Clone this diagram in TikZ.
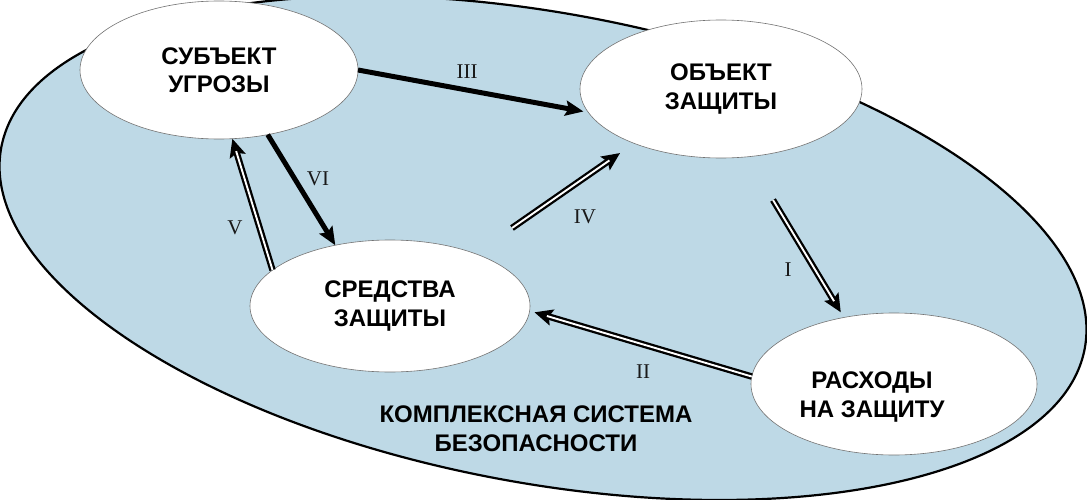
\documentclass[tikz,border=0pt]{standalone}
\usepackage{fontspec}
\setmainfont{Liberation Sans}
\newfontfamily\romfont{Liberation Serif}
\usetikzlibrary{arrows.meta,shapes.geometric}
\definecolor{sysblue}{RGB}{190,217,230}
\newcommand\dblarr[4]{%
  \draw[dblout, shorten >=#3] #1 -- #2;
  \draw[dblin, shorten >=#4] #1 -- #2;}
\begin{document}
\begin{tikzpicture}[x=1pt,y=1pt,
  bubble/.style={ellipse, draw=black!55, line width=0.6pt, fill=white,
    inner sep=0pt, outer sep=0pt, align=center,
    font=\bfseries\fontsize{24}{28.5}\selectfont},
  lbl/.style={align=center, font=\bfseries\fontsize{24}{29}\selectfont},
  rom/.style={font=\romfont\fontsize{21}{21}\selectfont, text=black!90},
  heavy/.style={line width=5pt, -{Stealth[length=18pt,width=15pt,inset=3pt]}},
  dblout/.style={line width=6.5pt, -{Stealth[length=18pt,width=16pt,inset=3pt]}},
  dblin/.style={line width=1.9pt, draw=white}]
\useasboundingbox (0,0) rectangle (1087,499);
% system ellipse
\path[draw=black, line width=2.2pt, fill=sysblue, rotate around={-10.5:(543,251)}]
  (543,251) ellipse [x radius=551, y radius=235];
% nodes
\node[bubble, minimum width=278, minimum height=138] (subj) at (219,429) {СУБЪЕКТ\\УГРОЗЫ};
\node[bubble, minimum width=282, minimum height=138] (obj) at (721,410) {ОБЪЕКТ\\ЗАЩИТЫ};
\node[bubble, minimum width=280, minimum height=132] (means) at (390,193) {СРЕДСТВА\\ЗАЩИТЫ};
\node[bubble, minimum width=286, minimum height=142] (cost) at (894,115) {};
\node[lbl] (costtxt) at (872,102) {РАСХОДЫ\\НА ЗАЩИТУ};
\node[lbl] (syslbl) at (536,70) {КОМПЛЕКСНАЯ СИСТЕМА\\БЕЗОПАСНОСТИ};
% free ends
\coordinate (ivs) at (512,271);
\coordinate (is) at (773,299);
% arrows
\draw[heavy, shorten >=5pt] (subj.east) -- (obj.190);
\draw[heavy] (subj.-53) -- (means.132.5);
\dblarr{(means.163.5)}{(subj.-79.5)}{0pt}{13pt}
\dblarr{(ivs)}{(obj.212)}{17pt}{30pt}
\dblarr{(is)}{(cost.127)}{6pt}{19pt}
\dblarr{(cost.177.6)}{(means.-2.4)}{5pt}{18pt}
% labels
\node[rom] (l3) at (467,427) {III};
\node[rom] (l6) at (318,320) {VI};
\node[rom] (l5) at (235,271) {V};
\node[rom] (l4) at (585,282) {IV};
\node[rom] (l1) at (788,229) {I};
\node[rom] (l2) at (643,127) {II};
\end{tikzpicture}
\end{document}
